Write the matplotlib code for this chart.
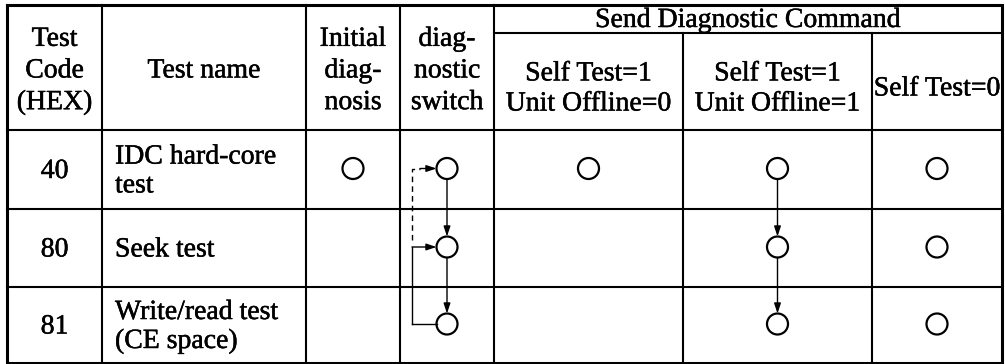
import matplotlib.pyplot as plt
import matplotlib.patheffects as pe
from matplotlib.patches import Circle

# table content
header_cols = ["Test\nCode\n(HEX)", "Test name", "Initial\ndiag-\nnosis", "diag-\nnostic\nswitch"]
group_header = "Send Diagnostic Command"
sub_headers = ["Self Test=1\nUnit Offline=0", "Self Test=1\nUnit Offline=1", "Self Test=0"]

codes = ["40", "80", "81"]
names = ["IDC hard-core\ntest", "Seek test", "Write/read test\n(CE space)"]

# which cells carry a circle (one list per mark column)
initial_diag = [1, 0, 0]
diag_switch = [1, 1, 1]
st1_uo0 = [1, 0, 0]
st1_uo1 = [1, 1, 1]
st0 = [1, 1, 1]
mark_cols = [initial_diag, diag_switch, st1_uo0, st1_uo1, st0]

# layout (pixels)
col_edges = [7, 102, 306, 400, 494, 683, 872, 1002]
top, group_bottom, head_bottom = 5, 33, 130
row_edges = [130, 209, 287, 363]

W, H = 1005, 364
fig = plt.figure(figsize=(W / 100, H / 100), dpi=100)
ax = fig.add_axes([0, 0, 1, 1])
ax.set_xlim(0, W)
ax.set_ylim(H, 0)
ax.axis('off')

font = dict(family='Liberation Serif', fontsize=20, color='black',
            path_effects=[pe.withStroke(linewidth=0.35, foreground='black')])
lw_in = 1.5
lw_out = 2.2

# grid lines
ax.plot([col_edges[0], col_edges[-1], col_edges[-1], col_edges[0], col_edges[0]],
        [top, top, row_edges[-1], row_edges[-1], top], color='black', lw=lw_out,
        solid_joinstyle='miter')
for x in col_edges[1:5]:
    ax.plot([x, x], [top, row_edges[-1]], color='black', lw=lw_in)
for x in col_edges[5:-1]:
    ax.plot([x, x], [group_bottom, row_edges[-1]], color='black', lw=lw_in)
ax.plot([col_edges[4], col_edges[-1]], [group_bottom, group_bottom], color='black', lw=lw_in)
for y in row_edges[:-1]:
    ax.plot([col_edges[0], col_edges[-1]], [y, y], color='black', lw=lw_in)

def cx(i):
    return (col_edges[i] + col_edges[i + 1]) / 2

def cy(r):
    return (row_edges[r] + row_edges[r + 1]) / 2

# headers
for i, t in enumerate(header_cols):
    ax.text(cx(i), 71, t, ha='center', va='center', linespacing=1.35, **font)
ax.text((col_edges[4] + col_edges[-1]) / 2, 20.5, group_header, ha='center', va='center', **font)
for j, t in enumerate(sub_headers):
    ax.text(cx(4 + j), 89, t, ha='center', va='center', linespacing=1.27, **font)

# body text
for r in range(3):
    ax.text(cx(0), cy(r) + 2, codes[r], ha='center', va='center', **font)
    ax.text(col_edges[1] + 13, cy(r) + 2, names[r], ha='left', va='center', linespacing=1.2, **font)

# circles
rad = 10.5
centers = {}
for k, col in enumerate(mark_cols):
    for r, v in enumerate(col):
        if v:
            x, y = cx(2 + k), cy(r) - 1
            centers[(k, r)] = (x, y)
            ax.add_patch(Circle((x, y), rad, fill=False, ec='black', lw=1.6))

arrow = dict(arrowstyle='-|>,head_length=0.6,head_width=0.2', color='black', lw=1.0,
             shrinkA=0, shrinkB=0)

# vertical chains: diagnostic switch and Self Test=1/Unit Offline=1
for k in (1, 3):
    for r in range(2):
        x0, y0 = centers[(k, r)]
        x1, y1 = centers[(k, r + 1)]
        ax.annotate('', xy=(x1, y1 - rad), xytext=(x0, y0 + rad), arrowprops=arrow)

# bracket on the left of diagnostic switch column
bx = 412
(xa, ya), (xb, yb), (xc, yc) = centers[(1, 0)], centers[(1, 1)], centers[(1, 2)]
ax.plot([bx, bx], [yb, yc], color='black', lw=1.0)
ax.plot([bx, xc - rad], [yc, yc], color='black', lw=1.0)
ax.annotate('', xy=(xb - rad, yb), xytext=(bx, yb), arrowprops=arrow)
ax.plot([bx, bx, bx + 8], [yb - 7, ya, ya], color='black', lw=1.0, linestyle=(0, (4, 3)))
ax.annotate('', xy=(xa - rad, ya), xytext=(bx + 8, ya), arrowprops=arrow)

fig.savefig('out.png', dpi=100)
